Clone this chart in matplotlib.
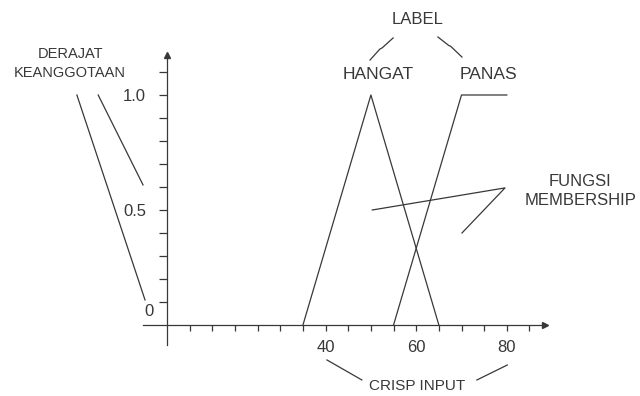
import matplotlib
matplotlib.use('Agg')
import matplotlib.pyplot as plt
import numpy as np

plt.rcParams['font.family'] = ['Liberation Sans', 'DejaVu Sans']

# fungsi keanggotaan (crisp input -> derajat keanggotaan)
hangat_x = [35, 50, 65]
hangat_y = [0, 1, 0]
panas_x = [55, 70, 80]
panas_y = [0, 1, 1]

x_ticks = list(range(10, 90, 5))
x_labels = {40: '40', 60: '60', 80: '80'}
y_ticks = [0.1, 0.2, 0.3, 0.4, 0.5, 0.6, 0.7, 0.8, 0.9, 1.0, 1.1]
y_labels = {0.5: '0.5', 1.0: '1.0'}

# garis penunjuk keterangan
garis_label = [[(54.9, 1.248), (52.5, 1.205), (52.0, 1.200), (49.8, 1.152)],
               [(64.8, 1.252), (67.2, 1.215), (67.6, 1.212), (70.1, 1.165)]]
garis_derajat = [[(-14.9, 1.0), (0.14, 0.109)],
                 [(-10.2, 1.0), (-0.3, 0.609)]]
garis_fungsi = [[(50.3, 0.5), (79.6, 0.596), (70.1, 0.4)]]
garis_crisp = [[(40.3, -0.152), (48.0, -0.239)],
               [(80.1, -0.174), (73.4, -0.239)]]

warna = '#383838'

fig = plt.figure(figsize=(6.4, 3.96), dpi=100)
ax = fig.add_axes([0, 0, 1, 1])
ax.set_xlim(-31.87, 109.4)
ax.set_ylim(-0.3087, 1.413)

# sumbu
for s in ['top', 'right']:
    ax.spines[s].set_visible(False)
ax.spines['left'].set_position(('data', 5))
ax.spines['bottom'].set_position(('data', 0))
ax.spines['left'].set_bounds(-0.087, 1.18)
ax.spines['bottom'].set_bounds(-0.3, 88.5)
for s in ['left', 'bottom']:
    ax.spines[s].set_color(warna)
    ax.spines[s].set_linewidth(0.9)
ax.plot([5], [1.175], marker='^', ms=4, color=warna, clip_on=False)
ax.plot([88.5], [0], marker='>', ms=4, color=warna, clip_on=False)

ax.set_xticks(x_ticks)
ax.set_xticklabels([x_labels.get(t, '') for t in x_ticks])
ax.set_yticks(y_ticks)
ax.set_yticklabels([y_labels.get(round(t, 1), '') for t in y_ticks])
ax.tick_params(axis='x', direction='out', length=4, width=0.9, color=warna,
               labelcolor=warna, labelsize=12, pad=7)
ax.tick_params(axis='y', direction='out', length=6, width=0.9, color=warna,
               labelcolor=warna, labelsize=12, pad=9)
ax.text(2.0, 0.057, '0', ha='right', va='center', fontsize=12, color=warna)

# kurva HANGAT dan PANAS
ax.plot(hangat_x, hangat_y, color=warna, lw=0.9)
ax.plot(panas_x, panas_y, color=warna, lw=0.9)

for grup in [garis_label, garis_derajat, garis_fungsi, garis_crisp]:
    for g in grup:
        g = np.array(g)
        ax.plot(g[:, 0], g[:, 1], color=warna, lw=0.9, clip_on=False)

ax.text(60.2, 1.330, 'LABEL', ha='center', va='center', fontsize=12, color=warna)
ax.text(51.6, 1.091, 'HANGAT', ha='center', va='center', fontsize=12.5, color=warna)
ax.text(75.9, 1.091, 'PANAS', ha='center', va='center', fontsize=12.5, color=warna)
ax.text(-16.4, 1.178, 'DERAJAT', ha='center', va='center', fontsize=10.5, color=warna)
ax.text(-16.4, 1.096, 'KEANGGOTAAN', ha='center', va='center', fontsize=10.5, color=warna)
ax.text(96.2, 0.622, 'FUNGSI', ha='center', va='center', fontsize=12, color=warna)
ax.text(96.2, 0.543, 'MEMBERSHIP', ha='center', va='center', fontsize=12, color=warna)
ax.text(60.2, -0.265, 'CRISP INPUT', ha='center', va='center', fontsize=11, color=warna)

fig.savefig('out.png', dpi=100)
